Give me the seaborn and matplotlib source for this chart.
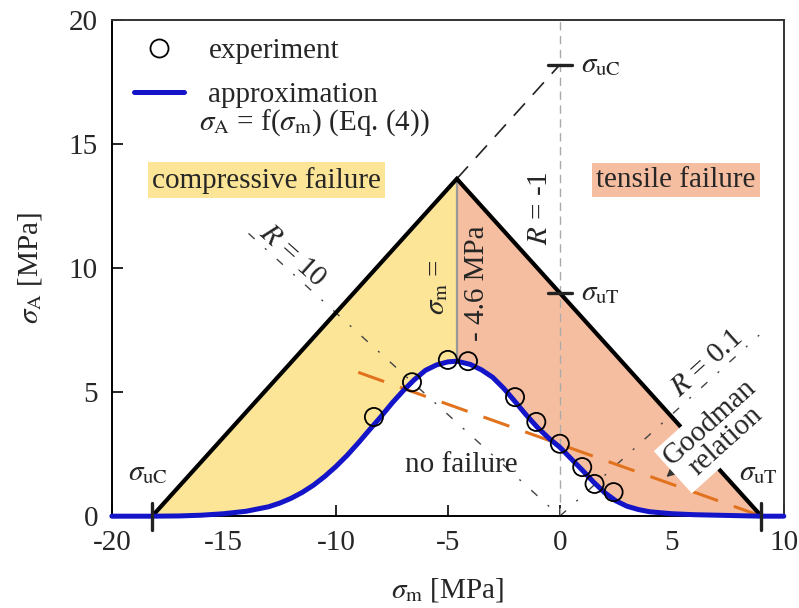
import numpy as np
import pandas as pd
import matplotlib
matplotlib.use('Agg')
import matplotlib.pyplot as plt
from matplotlib.lines import Line2D
import seaborn as sns

# ---------------- data ----------------
exp_sm = [-8.3, -6.6, -5.0, -4.1, -2.0, -1.05, 0.0, 1.0, 1.55, 2.4]
exp_sa = [4.0, 5.4, 6.3, 6.25, 4.8, 3.8, 2.92, 1.98, 1.3, 0.97]

approx_sm = [-20, -18.2, -17, -16, -15, -14, -13, -12.5, -12, -11.5, -11, -10.5, -10, -9.5, -9, -8.5,
             -8, -7.5, -7, -6.5, -6, -5.5, -5, -4.6, -4, -3.5, -3, -2.5, -2, -1.5, -1, -0.5, 0,
             0.5, 1, 1.5, 2, 2.5, 3, 3.5, 4, 5, 6, 7, 8, 9, 10]
approx_sa = [0.0, 0.0, 0.01, 0.04, 0.1, 0.2, 0.38, 0.53, 0.72, 0.96, 1.25, 1.6, 2.0, 2.45, 2.95, 3.48,
             4.0, 4.55, 5.05, 5.5, 5.88, 6.1, 6.22, 6.25, 6.12, 5.9, 5.6, 5.15, 4.62, 4.08, 3.58, 3.15,
             2.78, 2.32, 1.86, 1.38, 0.95, 0.62, 0.4, 0.27, 0.18, 0.1, 0.06, 0.04, 0.02, 0.0, 0.0]

sigma_uC = -18.2
sigma_uT = 9.0
peak_sm, peak_sa = -4.6, 13.6
uC_mag = 18.2

goodman_sm = [-9.0, 9.0]
goodman_sa = [5.8, 0.0]
R10_sm = [-13.9, 0.0]
R10_sa = [11.4, 0.0]
R01_sm = [0.0, 8.9]
R01_sa = [0.0, 7.3]

xticks = [-20, -15, -10, -5, 0, 5, 10]
yticks = [0, 5, 10, 15, 20]

# ---------------- style ----------------
sns.set_style('ticks')
plt.rcParams['font.family'] = ['Liberation Serif', 'DejaVu Serif']
plt.rcParams['mathtext.fontset'] = 'stix'
FS = 21

fig = plt.figure(figsize=(7.99, 6.08), dpi=100)
ax = fig.add_axes([0.140, 0.151, 0.841, 0.816])

YEL = '#FCE596'
SAL = '#F6BEA0'
BLUE = '#1414C8'
ORANGE = '#E2731E'

cx = np.array(approx_sm, float)
cy = np.array(approx_sa, float)

# fills
mask_l = (cx >= sigma_uC) & (cx <= peak_sm)
xs_l = [sigma_uC, peak_sm] + list(cx[mask_l][::-1])
ys_l = [0.0, peak_sa] + list(cy[mask_l][::-1])
ax.fill(xs_l, ys_l, color=YEL, lw=0, zorder=1)
mask_r = (cx >= peak_sm) & (cx <= sigma_uT)
xs_r = [peak_sm, sigma_uT] + list(cx[mask_r][::-1])
ys_r = [peak_sa, 0.0] + list(cy[mask_r][::-1])
ax.fill(xs_r, ys_r, color=SAL, lw=0, zorder=1)

# vertical gray line at sigma_m = -4.6
peak_curve = cy[np.argmin(np.abs(cx - peak_sm))]
ax.plot([peak_sm, peak_sm], [peak_curve, peak_sa], color='#999999', lw=1.6, zorder=2)

# vertical dashed line at 0
ax.plot([0, 0], [0, 20], color='#AAAAAA', lw=1.0, dashes=(6, 4), zorder=2)

# R lines
ax.plot(R10_sm, R10_sa, color='#444444', lw=1.0, dashes=(6, 10, 1.5, 10), zorder=2)
ax.plot(R01_sm, R01_sa, color='#444444', lw=1.0, dashes=(6, 10, 1.5, 10), zorder=2)

# R = -1 dashed continuation
ax.plot([peak_sm, 0], [peak_sa, uC_mag], color='#222222', lw=1.2, dashes=(10, 7), zorder=2)

# Goodman line
ax.plot(goodman_sm, goodman_sa, color=ORANGE, lw=2.2, dashes=(9, 5.5), zorder=3)

# triangle
ax.plot([sigma_uC, peak_sm, sigma_uT], [0, peak_sa, 0], color='black', lw=3.0,
        solid_joinstyle='miter', zorder=4)

# marks
for yv in (uC_mag, sigma_uT):
    ax.plot([-0.55, 0.55], [yv, yv], color='#222222', lw=2.4, zorder=4)
for xv in (sigma_uC, sigma_uT):
    ax.plot([xv, xv], [-0.55, 0.55], color='#222222', lw=2.4, zorder=6, clip_on=False)

# approximation curve & experiment
df_c = pd.DataFrame({'sm': cx, 'sa': cy})
sns.lineplot(data=df_c, x='sm', y='sa', ax=ax, color=BLUE, lw=3.6, sort=False,
             zorder=5, clip_on=False)
df_e = pd.DataFrame({'sm': exp_sm, 'sa': exp_sa})
sns.scatterplot(data=df_e, x='sm', y='sa', ax=ax, marker='o', s=170,
                facecolor='none', edgecolor='black', linewidth=1.3, zorder=6)

# axes
ax.set_xlim(-20, 10)
ax.set_ylim(0, 20)
ax.set_xticks(xticks)
ax.set_yticks(yticks)
ax.set_xticklabels([str(v) for v in xticks])
ax.set_yticklabels([str(v) for v in yticks])
ax.tick_params(direction='in', length=8, width=1.4, labelsize=FS, pad=10,
               top=False, right=False)
ax.set_xlabel(r'$\sigma_{\rm m}$ [MPa]', fontsize=FS, labelpad=14)
ax.set_ylabel(r'$\sigma_{\rm A}$ [MPa]', fontsize=FS, labelpad=18)
for s in ax.spines.values():
    s.set_linewidth(1.4)
    s.set_color('black')
for s in ('top', 'right'):
    ax.spines[s].set_color('#333333')

# texts
ax.text(-13.1, 13.55, 'compressive failure', fontsize=FS, ha='center', va='center',
        bbox=dict(boxstyle='square,pad=0.15', fc=YEL, ec='none'), zorder=7)
ax.text(5.18, 13.55, 'tensile failure', fontsize=FS, ha='center', va='center',
        bbox=dict(boxstyle='square,pad=0.15', fc=SAL, ec='none'), zorder=7)
ax.text(-4.4, 2.06, 'no failure', fontsize=FS, ha='center', va='center', zorder=7)
ax.text(-18.4, 1.73, r'$\sigma_{\rm uC}$', fontsize=FS, ha='center', va='center', zorder=7)
ax.text(8.85, 1.73, r'$\sigma_{\rm uT}$', fontsize=FS, ha='center', va='center', zorder=7)
ax.text(0.95, uC_mag, r'$\sigma_{\rm uC}$', fontsize=FS, ha='left', va='center', zorder=7)
ax.text(0.95, sigma_uT, r'$\sigma_{\rm uT}$', fontsize=FS, ha='left', va='center', zorder=7)
ax.text(-0.9, 12.4, r'$R$ = -1', fontsize=FS, ha='center', va='center', rotation=90, zorder=7)
ax.text(-11.96, 10.5, r'$R$ = 10', fontsize=FS, ha='center', va='center', rotation=-42,
        rotation_mode='anchor', zorder=7)
ax.text(6.56, 6.17, r'$R$ = 0.1', fontsize=FS, ha='center', va='center', rotation=42,
        rotation_mode='anchor', zorder=7)
ax.text(-5.5, 9.23, r'$\sigma_{\rm m}$ =', fontsize=FS, ha='center', va='center', rotation=90, zorder=7)
ax.text(-3.7, 9.4, '- 4.6 MPa', fontsize=FS, ha='center', va='center', rotation=90, zorder=7)
ax.annotate('Goodman\nrelation', xy=(4.76, 1.58), xytext=(7.05, 3.4), fontsize=FS,
            ha='center', va='center', rotation=42, rotation_mode='anchor', linespacing=0.95,
            bbox=dict(boxstyle='square,pad=0.1', fc='white', ec='none'),
            arrowprops=dict(arrowstyle='-|>', color='#333333', lw=1.2, shrinkA=0, shrinkB=0,
                            mutation_scale=12),
            zorder=8)

# legend
handles = [Line2D([], [], marker='o', ls='none', mfc='none', mec='black', ms=13, mew=1.3),
           Line2D([], [], color=BLUE, lw=3.6)]
ax.legend(handles, ['experiment', 'approximation'], loc='upper left', frameon=False,
          fontsize=FS, handlelength=1.7, handletextpad=0.85, labelspacing=0.6,
          borderaxespad=0.2, bbox_to_anchor=(0.007, 1.0))
ax.text(0.13, 0.794, r'$\sigma_{\rm A}$ = f($\sigma_{\rm m}$) (Eq. (4))', transform=ax.transAxes,
        fontsize=FS, ha='left', va='center', zorder=7)

fig.savefig('out.png', dpi=100)
